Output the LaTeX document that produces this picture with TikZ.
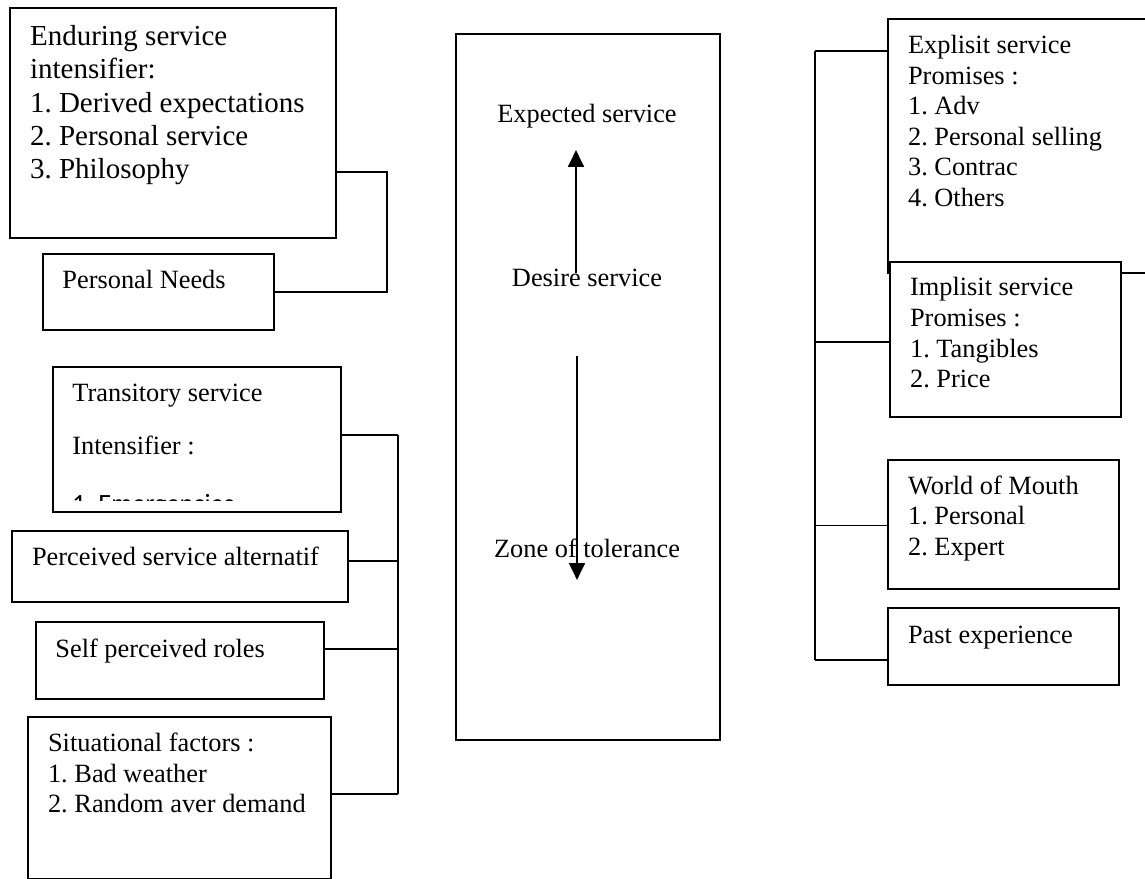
\documentclass[tikz,border=0pt]{standalone}
\usepackage{fontspec}
\setmainfont{Liberation Serif}
\newfontfamily\calibrifont{Carlito}
\usetikzlibrary{arrows.meta,calc}
\frenchspacing

\begin{document}
\begin{tikzpicture}[
  panel/.style={draw,line width=0.75pt,fill=white,anchor=north west,inner sep=0pt},
  txt/.style={anchor=north west,inner sep=0pt,align=left,
              font=\fontsize{12}{13.9}\selectfont},
  bigtxt/.style={txt,font=\fontsize{13.2}{15.1}\selectfont},
  midtxt/.style={anchor=base,inner sep=0pt,font=\fontsize{12}{14}\selectfont},
  link/.style={line width=0.75pt},
  move/.style={line width=1.2pt,-{Triangle[width=0.25cm,length=0.27cm]}}
]
  \useasboundingbox (0,0) rectangle (18.32,14.064);

  % left column
  \node[panel,minimum width=5.216cm,minimum height=3.68cm] (enduring) at (0.144,13.952) {};
  \node[bigtxt] (enduringtxt) at ([shift={(0.33,-0.29)}]enduring.north west)
    {Enduring service\\intensifier:\\1. Derived expectations\\2. Personal service\\3. Philosophy};

  \node[panel,minimum width=3.696cm,minimum height=1.216cm] (needs) at (0.672,10.016) {};
  \node[txt] (needstxt) at ([shift={(0.32,-0.27)}]needs.north west) {Personal Needs};

  \node[panel,minimum width=4.608cm,minimum height=2.32cm] (transitory) at (0.832,8.208) {};
  \begin{scope}
    \clip (transitory.north west) rectangle ([yshift=0.19cm]transitory.south east);
    \node[txt,font=\fontsize{12}{24.1}\selectfont] (transitorytxt)
      at ([shift={(0.32,-0.28)}]transitory.north west)
      {Transitory service\\Intensifier :\\[2.5pt]{\calibrifont 1. Emergencies}};
  \end{scope}

  \node[panel,minimum width=5.376cm,minimum height=1.136cm] (alternatif) at (0.176,5.584) {};
  \node[txt] (alternatiftxt) at ([shift={(0.33,-0.27)}]alternatif.north west) {Perceived service alternatif};

  \node[panel,minimum width=4.608cm,minimum height=1.232cm] (roles) at (0.56,4.128) {};
  \node[txt] (rolestxt) at ([shift={(0.32,-0.28)}]roles.north west) {Self perceived roles};

  \node[panel,minimum width=4.848cm,minimum height=2.592cm] (situational) at (0.432,2.608) {};
  \node[txt] (situationaltxt) at ([shift={(0.33,-0.27)}]situational.north west)
    {Situational factors :\\1. Bad weather\\2. Random aver demand};

  \coordinate (upperbus) at (6.192,11.312);
  \coordinate (lowerbus) at (6.368,0);
  \draw[link] (enduring.east |- upperbus) -- (upperbus) |- (needs.east);
  \foreach \b/\dy in {transitory/0.07,alternatif/0.09,roles/0.18,situational/0.06}
    \draw[link] ([yshift=\dy cm]\b.east) -- ([yshift=\dy cm]\b.east -| lowerbus);
  \draw[link] ([yshift=0.07cm]transitory.east -| lowerbus) -- ([yshift=0.06cm]situational.east -| lowerbus);

  % middle
  \node[panel,minimum width=4.224cm,minimum height=11.296cm] (levels) at (7.28,13.536) {};
  \node[midtxt] (expected) at (9.392,12.096) {Expected service};
  \node[midtxt] (desire) at (9.392,9.472) {Desire service};
  \node[midtxt] (zone) at (9.392,5.136) {Zone of tolerance};
  \draw[move] ([xshift=-0.176cm,yshift=0.224cm]desire.base) -- ([xshift=-0.176cm,yshift=-0.432cm]expected.base);
  \draw[move] ([xshift=-0.16cm,yshift=-1.104cm]desire.base) -- ([xshift=-0.16cm,yshift=-0.352cm]zone.base);

  % right column
  \node[panel,minimum width=4.448cm,minimum height=4.064cm] (explisit) at (14.192,13.776) {};
  \node[txt] (explisittxt) at ([shift={(0.33,-0.27)}]explisit.north west)
    {Explisit service\\Promises :\\1. Adv\\2. Personal selling\\3. Contrac\\4. Others};

  \node[panel,minimum width=3.696cm,minimum height=2.48cm] (implisit) at (14.224,9.888) {};
  \node[txt] (implisittxt) at ([shift={(0.33,-0.26)}]implisit.north west)
    {Implisit service\\Promises :\\1. Tangibles\\2. Price};

  \node[panel,minimum width=3.696cm,minimum height=2.064cm] (wom) at (14.192,6.72) {};
  \node[txt] (womtxt) at ([shift={(0.33,-0.26)}]wom.north west)
    {World of Mouth\\1. Personal\\2. Expert};

  \node[panel,minimum width=3.696cm,minimum height=1.232cm] (past) at (14.192,4.352) {};
  \node[txt] (pasttxt) at ([shift={(0.33,-0.3)}]past.north west) {Past experience};

  \coordinate (rightbus) at (13.04,0);
  \foreach \b/\dy in {explisit/1.52,implisit/-0.04,wom/-0.02,past/-0.22}
    \draw[link] ([yshift=\dy cm]\b.west) -- ([yshift=\dy cm]\b.west -| rightbus);
  \draw[link] ([yshift=1.52cm]explisit.west -| rightbus) -- ([yshift=-0.22cm]past.west -| rightbus);
\end{tikzpicture}
\end{document}
